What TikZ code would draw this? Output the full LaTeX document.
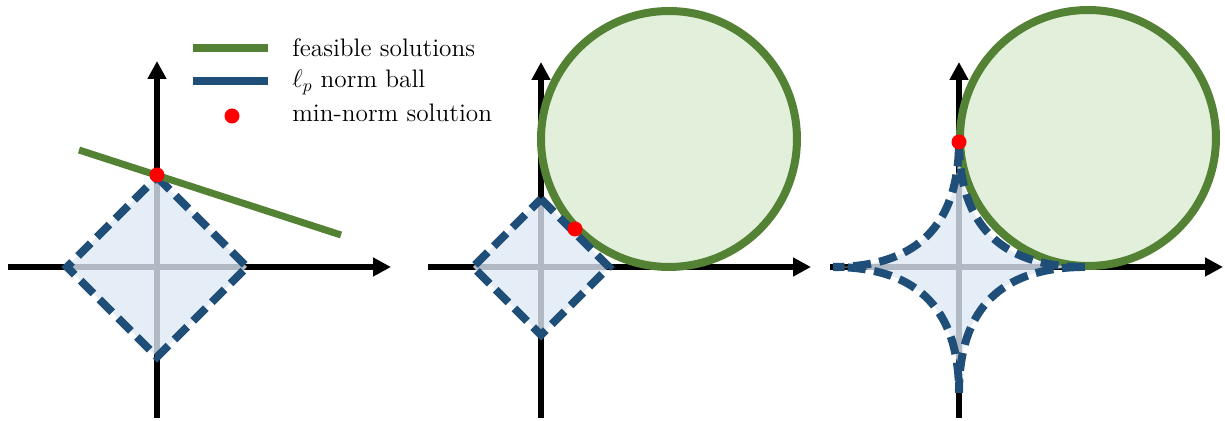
\documentclass[tikz,border=0pt]{standalone}
\usepackage{amsmath,amssymb}
\usepackage{tikz}
\usetikzlibrary{arrows.meta,positioning}
\definecolor{solgreen}{RGB}{84,130,53}
\definecolor{solfill}{RGB}{226,239,218}
\definecolor{ballblue}{RGB}{31,78,121}
\definecolor{ballfill}{RGB}{222,232,245}
\definecolor{minred}{RGB}{255,0,0}

\begin{document}
\begin{tikzpicture}[
  x=0.02cm, y=-0.02cm,
  axis/.style={line width=0.12cm, -{Triangle[length=0.36cm, width=0.36cm]}},
  ballline/.style={line width=0.16cm, draw=ballblue, dash pattern=on 0.36cm off 0.17cm},
  ballarea/.style={fill=ballfill, fill opacity=0.8},
  feasible/.style={line width=0.14cm, draw=solgreen},
  solset/.style={line width=0.16cm, draw=solgreen, fill=solfill},
  minpt/.style={circle, fill=minred, inner sep=0pt, minimum size=0.3cm},
  legtext/.style={anchor=base west, inner sep=0pt, font=\fontsize{14.4}{17}\selectfont}
]
\useasboundingbox (0,0) rectangle (1225,421);

\coordinate (o1) at (157,267);
\coordinate (x1l) at (8,267);
\coordinate (x1r) at (391,267);
\coordinate (y1b) at (157,418);
\coordinate (y1t) at (157,61);
\draw[axis] (x1l) -- (x1r);
\draw[axis] (y1b) -- (y1t);
\draw[ballarea, ballline] (o1) ++(0,-90) -- ++(90,90) -- ++(-90,90) -- ++(-90,-90) -- cycle;
\coordinate (f1a) at (79,150);
\coordinate (f1b) at (341,235);
\draw[feasible] (f1a) -- (f1b);
\node[minpt] (m1) at (157,175) {};

\coordinate (o2) at (541,267);
\coordinate (x2l) at (428,267);
\coordinate (x2r) at (811,267);
\coordinate (y2b) at (541,418);
\coordinate (y2t) at (541,62);
\draw[axis] (x2l) -- (x2r);
\draw[axis] (y2b) -- (y2t);
\draw[solset] (669,139) circle (2.56cm);
\draw[ballarea, ballline] (o2) ++(0,-68) -- ++(68,68) -- ++(-68,68) -- ++(-68,-68) -- cycle;
\node[minpt] (m2) at (575,229) {};

\coordinate (o3) at (959,267);
\coordinate (x3l) at (830,267);
\coordinate (x3r) at (1223,267);
\coordinate (y3b) at (959,418);
\coordinate (y3t) at (959,62);
\draw[axis] (x3l) -- (x3r);
\draw[axis] (y3b) -- (y3t);
\draw[solset] (1088,138) circle (2.56cm);
\draw[ballarea, ballline] plot[domain=0:360, samples=361]
  ({959+126*cos(\x)*cos(\x)*cos(\x)*abs(cos(\x))}, {267-126*sin(\x)*sin(\x)*sin(\x)*abs(sin(\x))}) -- cycle;
\node[minpt] (m3) at (959,142) {};

\coordinate (lg1a) at (193,48);
\coordinate (lg1b) at (268,48);
\coordinate (lg2a) at (193,81);
\coordinate (lg2b) at (268,81);
\draw[line width=0.16cm, solgreen] (lg1a) -- (lg1b);
\draw[line width=0.16cm, ballblue] (lg2a) -- (lg2b);
\node[minpt] (lg3) at (232,116) {};
\node[legtext] (lt1) at (292,57) {feasible solutions};
\node[legtext] (lt2) at (292,88) {$\ell_p$ norm ball};
\node[legtext] (lt3) at (292,122) {min-norm solution};
\end{tikzpicture}
\end{document}
